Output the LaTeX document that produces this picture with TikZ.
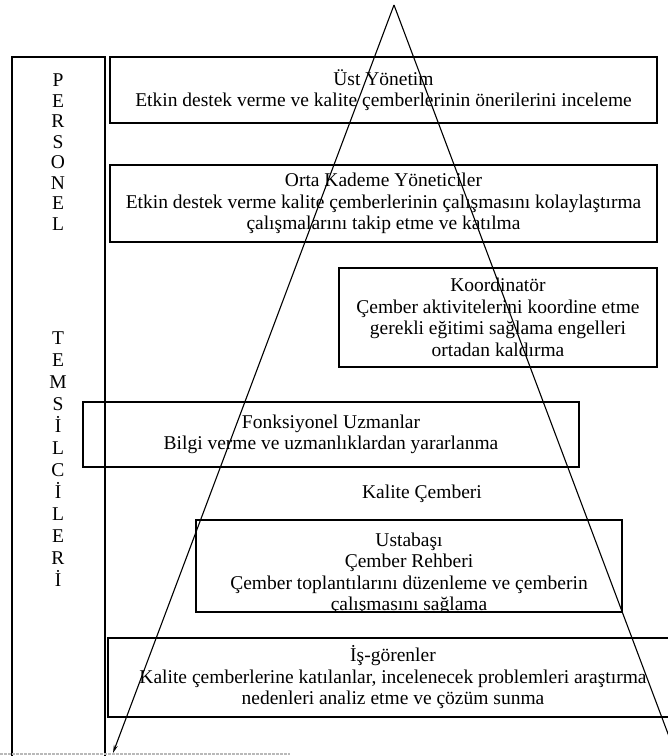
\documentclass[tikz,border=0pt]{standalone}
\usepackage{fontspec}
\setmainfont{Liberation Serif}
\usetikzlibrary{arrows.meta}
\begin{document}
\begin{tikzpicture}[x=1pt,y=-1pt,
  frame/.style={draw, line width=1.6pt},
  edge/.style={line width=1.1pt},
  txt/.style={font=\fontsize{19.5}{21.5}\selectfont, align=center, inner sep=0pt},
  letter/.style={font=\fontsize{19.5}{21.5}\selectfont, inner sep=0pt, anchor=base},
  level/.style={frame, txt}
]
\useasboundingbox (0,0) rectangle (668,756);

% left column: staff representatives
\draw[frame] (12,756) -- (12,57) -- (105,57) -- (105,756);
\draw[gray!55, line width=1.5pt, dash pattern=on 3pt off 1pt] (0,754) -- (290,754);
\foreach \ch [count=\i] in {P,E,R,S,O,N,E,L}
  \node[letter] (pers\i) at (58,{86.5+20.5*(\i-1)}) {\ch};
\foreach \ch [count=\i] in {T,E,M,S,İ,L,C,İ,L,E,R,İ}
  \node[letter] (tems\i) at (58,{344.5+22*(\i-1)}) {\ch};

% hierarchy levels
\node[level, minimum width=547pt, minimum height=66pt] (ust) at (383.5,90)
  {Üst Yönetim\\Etkin destek verme ve kalite çemberlerinin önerilerini inceleme};
\node[level, minimum width=547pt, minimum height=77pt] (orta) at (383.5,203.5)
  {Orta Kademe Yöneticiler\\Etkin destek verme kalite çemberlerinin çalışmasını kolaylaştırma\\çalışmalarını takip etme ve katılma};
\node[level, minimum width=318pt, minimum height=99pt] (koord) at (498,317.5)
  {Koordinatör\\Çember aktivitelerini koordine etme\\gerekli eğitimi sağlama engelleri\\ortadan kaldırma};
\node[level, minimum width=496pt, minimum height=65pt] (fonk) at (331,434.5)
  {Fonksiyonel Uzmanlar\\Bilgi verme ve uzmanlıklardan yararlanma};
\node[txt] (kalite) at (422,494) {Kalite Çemberi};

% foreman box: last line runs into the bottom border
\begin{scope}
  \clip (196,520) rectangle (622,612);
  \node[txt] (ustatext) at (409,574)
    {Ustabaşı\\Çember Rehberi\\Çember toplantılarını düzenleme ve çemberin\\çalışmasını sağlama};
\end{scope}
\node[frame, inner sep=0pt, minimum width=426pt, minimum height=92pt] (usta) at (409,566) {};

\node[level, minimum width=570pt, minimum height=79pt] (isg) at (393,677.5)
  {İş-görenler\\Kalite çemberlerine katılanlar, incelenecek problemleri araştırma\\nedenleri analiz etme ve çözüm sunma};

% pyramid
\coordinate (apex) at (394,5);
\coordinate (footL) at (113,753);
\coordinate (footR) at (676,755);
\draw[edge] (apex) -- (footR);
\draw[edge, -{Stealth[length=8pt,width=4pt]}] (apex) -- (footL);
\end{tikzpicture}
\end{document}
